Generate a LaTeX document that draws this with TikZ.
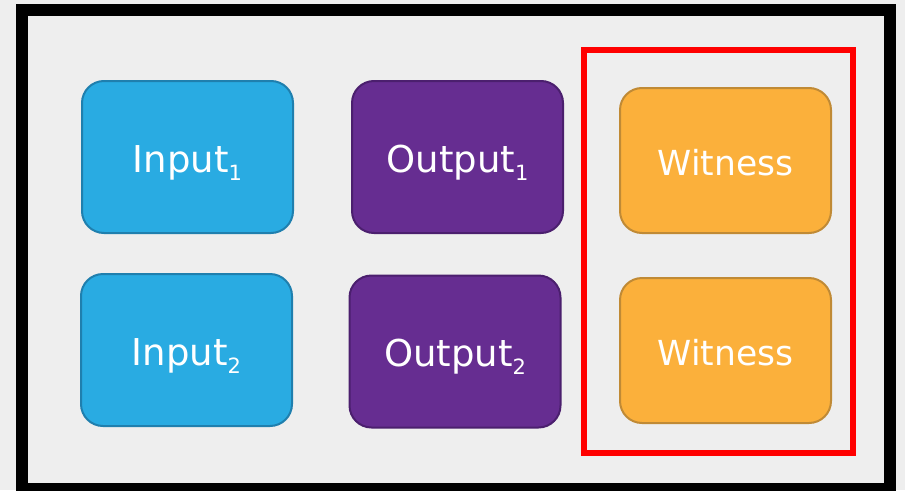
\documentclass[tikz,border=0pt]{standalone}
\usepackage{fontspec}
\setmainfont{DejaVu Sans}
\definecolor{bggray}{HTML}{EEEEEE}
\definecolor{inblue}{HTML}{29ABE2}
\definecolor{inbluedark}{HTML}{1F7FAE}
\definecolor{outpurple}{HTML}{662D91}
\definecolor{outpurpledark}{HTML}{4B1F6E}
\definecolor{witorange}{HTML}{FBB03B}
\definecolor{witorangedark}{HTML}{C08A35}
% lowered small index after a label
\newcommand{\idx}[1]{\raisebox{-0.22em}[0pt][0pt]{\fontsize{21}{21}\selectfont #1}}
\tikzset{
  card/.style={rectangle, rounded corners=22pt, line width=2pt,
    minimum width=211pt, inner sep=0pt, text=white,
    text height=30pt, text depth=0pt,
    font=\fontsize{37}{40}\selectfont},
  inbox/.style={card, fill=inblue, draw=inbluedark, minimum height=152pt},
  outbox/.style={card, fill=outpurple, draw=outpurpledark, minimum height=152pt},
  witbox/.style={card, fill=witorange, draw=witorangedark, minimum height=145pt,
    font=\fontsize{34.5}{38}\selectfont},
}
\begin{document}
\begin{tikzpicture}[x=1pt, y=-1pt]
  % canvas and outer frame
  \fill[bggray] (0,0) rectangle (905,490);
  \useasboundingbox (0,0) rectangle (905,490);
  \draw[black, line width=12pt] (22,10) rectangle (890,489);

  % inputs
  \node[inbox] (in1) at (187.5,157) {Input\idx{1}};
  \node[inbox] (in2) at (186.5,350) {Input\idx{2}};

  % outputs
  \node[outbox] (out1) at (457.5,157) {Output\idx{1}};
  \node[outbox] (out2) at (455,351.5) {Output\idx{2}};

  % witnesses
  \node[witbox] (wit1) at (725.5,160.5) {Witness};
  \node[witbox] (wit2) at (725.5,350.5) {Witness};

  % highlight around the witnesses
  \draw[red, line width=6pt] (584,50) rectangle (853,452.5);
\end{tikzpicture}
\end{document}
